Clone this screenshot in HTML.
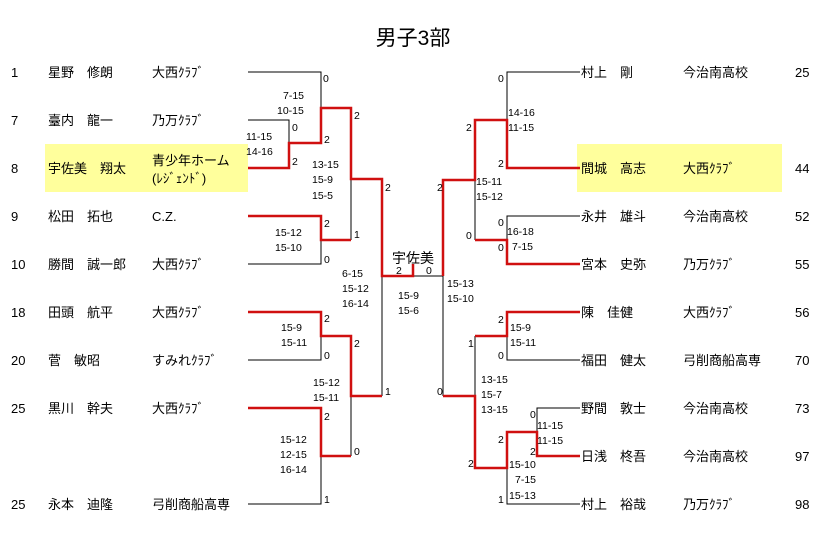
<!DOCTYPE html>
<html><head><meta charset="utf-8"><style>
html,body{margin:0;padding:0;background:#fff;}
svg text{font-family:"Liberation Sans","Noto Sans CJK JP",sans-serif;fill:#000;}
.n{font-size:13px;}
.s{font-size:10.5px;}
</style></head><body>
<svg width="827" height="529" viewBox="0 0 827 529" xmlns="http://www.w3.org/2000/svg">
<rect x="45" y="144" width="203" height="48" fill="#ffff9c"/>
<rect x="577" y="144" width="205" height="48" fill="#ffff9c"/>
<text x="413" y="45" font-size="21" text-anchor="middle">男子3部</text>
<g class="n">
<text x="11" y="77">1</text><text x="48" y="77">星野　修朗</text><text x="152" y="77">大西ｸﾗﾌﾞ</text>
<text x="11" y="125">7</text><text x="48" y="125">臺内　龍一</text><text x="152" y="125">乃万ｸﾗﾌﾞ</text>
<text x="11" y="173">8</text><text x="48" y="173">宇佐美　翔太</text><text x="152" y="165">青少年ホーム</text><text x="152" y="183">(ﾚｼﾞｪﾝﾄﾞ)</text>
<text x="11" y="221">9</text><text x="48" y="221">松田　拓也</text><text x="152" y="221">C.Z.</text>
<text x="11" y="269">10</text><text x="48" y="269">勝間　誠一郎</text><text x="152" y="269">大西ｸﾗﾌﾞ</text>
<text x="11" y="317">18</text><text x="48" y="317">田頭　航平</text><text x="152" y="317">大西ｸﾗﾌﾞ</text>
<text x="11" y="365">20</text><text x="48" y="365">菅　敏昭</text><text x="152" y="365">すみれｸﾗﾌﾞ</text>
<text x="11" y="413">25</text><text x="48" y="413">黒川　幹夫</text><text x="152" y="413">大西ｸﾗﾌﾞ</text>
<text x="11" y="509">25</text><text x="48" y="509">永本　迪隆</text><text x="152" y="509">弓削商船高専</text>
<text x="581" y="77">村上　剛</text><text x="683" y="77">今治南高校</text><text x="795" y="77">25</text>
<text x="581" y="173">間城　高志</text><text x="683" y="173">大西ｸﾗﾌﾞ</text><text x="795" y="173">44</text>
<text x="581" y="221">永井　雄斗</text><text x="683" y="221">今治南高校</text><text x="795" y="221">52</text>
<text x="581" y="269">宮本　史弥</text><text x="683" y="269">乃万ｸﾗﾌﾞ</text><text x="795" y="269">55</text>
<text x="581" y="317">陳　佳健</text><text x="683" y="317">大西ｸﾗﾌﾞ</text><text x="795" y="317">56</text>
<text x="581" y="365">福田　健太</text><text x="683" y="365">弓削商船高専</text><text x="795" y="365">70</text>
<text x="581" y="413">野間　敦士</text><text x="683" y="413">今治南高校</text><text x="795" y="413">73</text>
<text x="581" y="461">日浅　柊吾</text><text x="683" y="461">今治南高校</text><text x="795" y="461">97</text>
<text x="581" y="509">村上　裕哉</text><text x="683" y="509">乃万ｸﾗﾌﾞ</text><text x="795" y="509">98</text>
</g>
<g fill="none" stroke="#000" stroke-width="1">
<polyline points="248,72 321,72 321,108"/>
<polyline points="248,120 289,120 289,143"/>
<polyline points="321,240 321,264 248,264"/>
<polyline points="351,179 351,240"/>
<polyline points="321,336 321,360 248,360"/>
<polyline points="351,396 351,456"/>
<polyline points="321,456 321,504 248,504"/>
<polyline points="382,276 382,396"/>
<polyline points="413,276 443,276 443,396"/>
<polyline points="580,72 507,72 507,120"/>
<polyline points="475,180 475,240"/>
<polyline points="580,216 507,216 507,240"/>
<polyline points="475,336 475,396"/>
<polyline points="507,336 507,360 580,360"/>
<polyline points="580,408 537,408 537,432"/>
<polyline points="507,468 507,504 580,504"/>
</g>
<g fill="none" stroke="#d01010" stroke-width="2.5">
<polyline points="248,168 289,168 289,143 321,143 321,108 351,108 351,179 382,179 382,276 413,276 413,264"/>
<polyline points="248,216 321,216 321,240 351,240"/>
<polyline points="248,312 321,312 321,336 351,336 351,396 382,396"/>
<polyline points="248,408 321,408 321,456 351,456"/>
<polyline points="580,168 507,168 507,120 475,120 475,180 443,180 443,276"/>
<polyline points="580,264 507,264 507,240 475,240"/>
<polyline points="580,312 507,312 507,336 475,336"/>
<polyline points="443,396 475,396 475,468 507,468 507,432 537,432 537,456 580,456"/>
</g>
<text x="413" y="263" font-size="14" text-anchor="middle">宇佐美</text>
<g class="s">
<text x="396" y="274">2</text><text x="426" y="274">0</text>
<text x="323" y="82">0</text><text x="283" y="99">7-15</text><text x="277" y="114">10-15</text>
<text x="292" y="131">0</text><text x="246" y="140">11-15</text><text x="246" y="155">14-16</text>
<text x="292" y="165">2</text><text x="324" y="143">2</text><text x="354" y="119">2</text>
<text x="312" y="168">13-15</text><text x="312" y="183">15-9</text><text x="312" y="199">15-5</text>
<text x="385" y="191">2</text><text x="324" y="227">2</text><text x="275" y="236">15-12</text><text x="275" y="251">15-10</text>
<text x="354" y="238">1</text><text x="324" y="263">0</text>
<text x="342" y="277">6-15</text><text x="342" y="292">15-12</text><text x="342" y="307">16-14</text>
<text x="398" y="299">15-9</text><text x="398" y="314">15-6</text>
<text x="324" y="322">2</text><text x="281" y="331">15-9</text><text x="281" y="346">15-11</text>
<text x="324" y="359">0</text><text x="354" y="347">2</text>
<text x="313" y="386">15-12</text><text x="313" y="401">15-11</text><text x="385" y="395">1</text>
<text x="324" y="420">2</text><text x="280" y="443">15-12</text><text x="280" y="458">12-15</text><text x="280" y="473">16-14</text>
<text x="354" y="455">0</text><text x="324" y="503">1</text>
<text x="498" y="82">0</text><text x="508" y="116">14-16</text><text x="508" y="131">11-15</text>
<text x="466" y="131">2</text><text x="498" y="167">2</text><text x="437" y="191">2</text>
<text x="476" y="185">15-11</text><text x="476" y="200">15-12</text>
<text x="498" y="226">0</text><text x="507" y="235">16-18</text><text x="512" y="250">7-15</text>
<text x="498" y="251">0</text><text x="466" y="239">0</text>
<text x="447" y="287">15-13</text><text x="447" y="302">15-10</text>
<text x="498" y="323">2</text><text x="510" y="331">15-9</text><text x="510" y="346">15-11</text>
<text x="498" y="359">0</text><text x="468" y="347">1</text><text x="437" y="395">0</text>
<text x="481" y="383">13-15</text><text x="481" y="398">15-7</text><text x="481" y="413">13-15</text>
<text x="530" y="418">0</text><text x="537" y="429">11-15</text><text x="537" y="444">11-15</text>
<text x="530" y="455">2</text><text x="498" y="443">2</text>
<text x="509" y="468">15-10</text><text x="515" y="483">7-15</text><text x="509" y="499">15-13</text>
<text x="468" y="467">2</text><text x="498" y="503">1</text>
</g>
</svg>
</body></html>
